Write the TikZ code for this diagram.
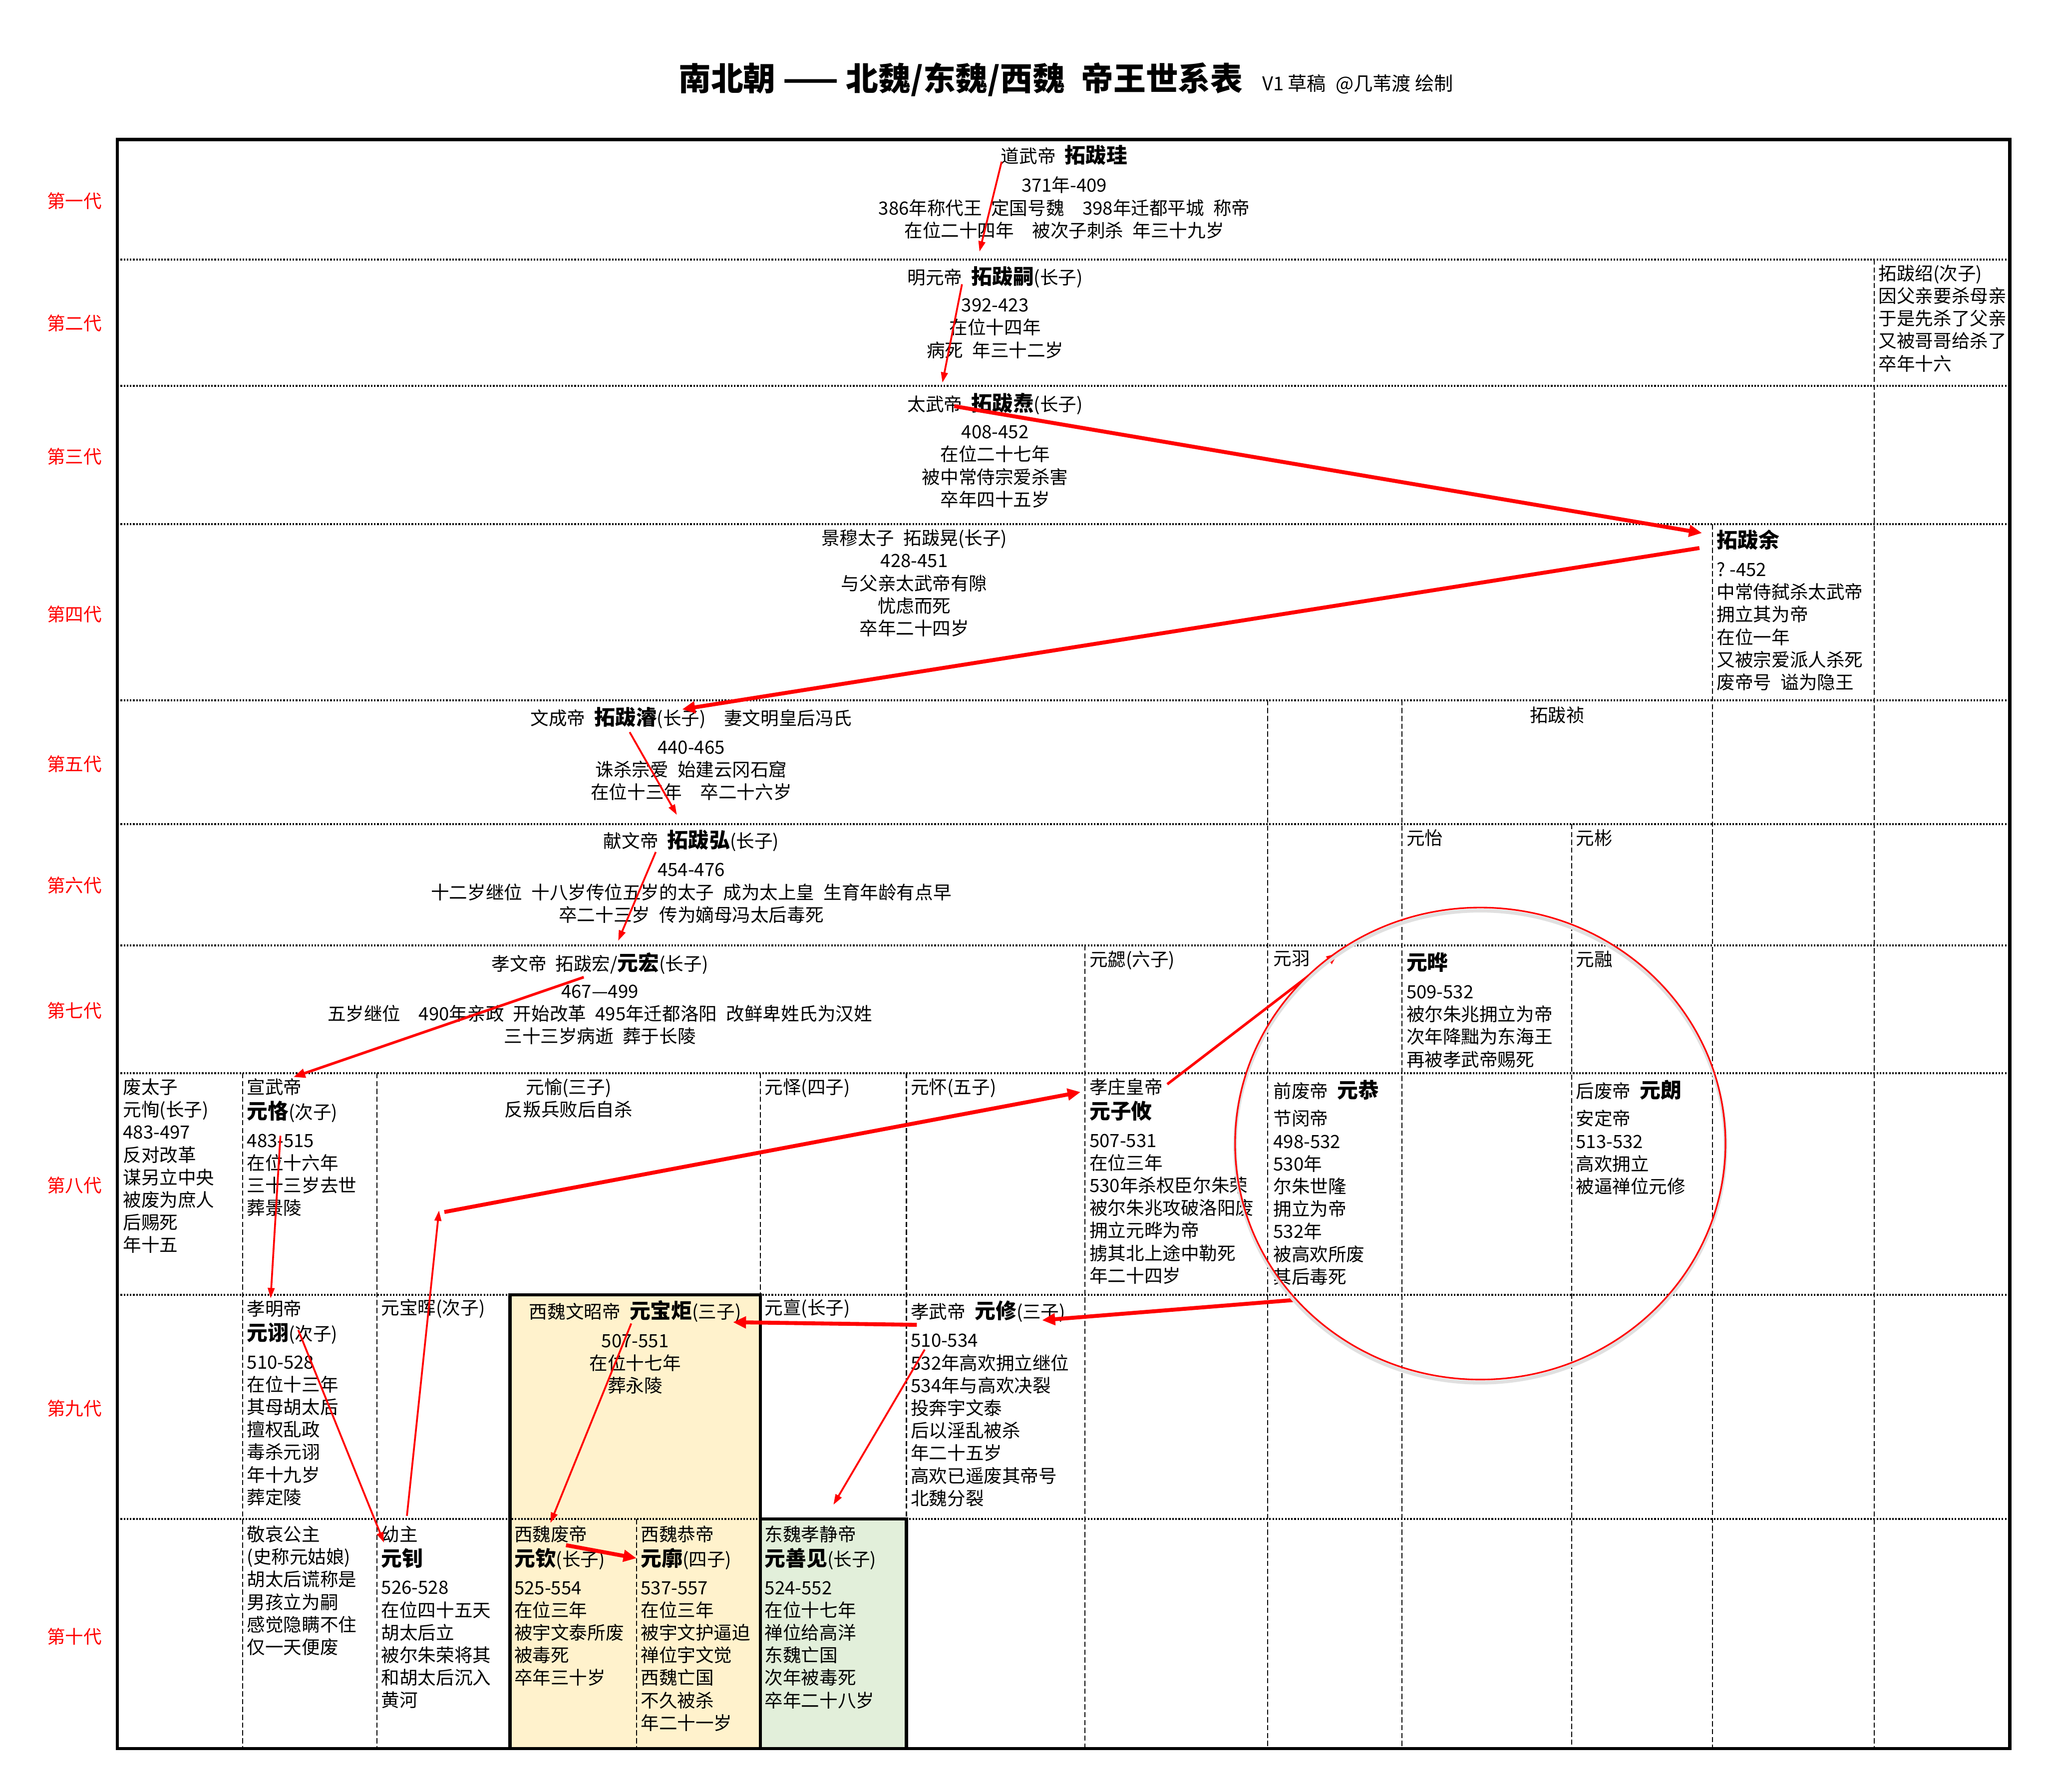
\documentclass[tikz,border=0pt]{standalone}
\usepackage{fontspec}
\setmainfont{Noto Sans CJK SC}
\usetikzlibrary{arrows.meta,positioning}
\definecolor{xiwei}{HTML}{FFF2CC}
\definecolor{dongwei}{HTML}{E2EFDA}
\newcommand{\nm}[1]{{\fontsize{8pt}{8.65pt}\selectfont\bfseries #1}}
\begin{document}
\begin{tikzpicture}[
    x=0.5pt, y=-0.5pt,
    every node/.style={inner sep=0pt, font=\fontsize{7pt}{8.65pt}\selectfont},
    cell/.style={align=center, anchor=north},
    lcell/.style={align=left, anchor=north west},
    gen/.style={text=red},
    rowline/.style={line width=0.7pt, dash pattern=on 0.6pt off 0.6pt},
    colline/.style={line width=0.4pt, dash pattern=on 2pt off 1pt},
    outer/.style={line width=1.2pt},
    heir/.style={red, line width=0.7pt, -{Triangle[length=4pt, width=2.6pt]}},
    heirmid/.style={red, line width=1pt, -{Triangle[length=4.5pt, width=3.4pt]}},
    heirbig/.style={red, line width=1.5pt, -{Triangle[length=5pt, width=4.4pt]}}
]
\useasboundingbox (0,0) rectangle (1568,1374);

\fill[xiwei] (391,993) rectangle (583,1341);
\fill[dongwei] (583,1165) rectangle (695,1341);

\foreach \y in {199,296,402,537,632,725,823,993,1165}
    \draw[rowline] (90,\y) -- (1541,\y);
\foreach \x/\a/\b in {1437/199/1341, 1313/402/1341, 972/537/1341, 1075/537/1341,
        1205/632/1341, 832/725/1341, 186/823/1341, 289/823/1341,
        583/823/993, 695/823/1165, 488/1165/1341}
    \draw[colline] (\x,\a) -- (\x,\b);
\draw[outer] (90,107) rectangle (1541,1341);
\draw[outer] (391,993) rectangle (583,1341);
\draw[outer] (583,1165) rectangle (695,1341);

\node[font=\fontsize{12.4pt}{14pt}\selectfont\bfseries, anchor=west] (ttl) at (520,61)
    {南北朝 —— 北魏/东魏/西魏\enspace 帝王世系表};
\node[font=\fontsize{7.3pt}{9pt}\selectfont, anchor=base west] (sub) at ([xshift=7pt]ttl.base east)
    {V1 草稿\enspace @几苇渡 绘制};

\foreach \t/\y [count=\i] in {第一代/154, 第二代/248, 第三代/350, 第四代/471, 第五代/586,
        第六代/679, 第七代/775, 第八代/909, 第九代/1080, 第十代/1255}
    \node[gen] (L\i) at (57,\y) {\t};

\node[cell] (g1) at (816,111) {道武帝\enspace\nm{拓跋珪}\\[2.5pt]
    371年-409\\
    386年称代王\enspace 定国号魏\quad 398年迁都平城\enspace 称帝\\
    在位二十四年\quad 被次子刺杀\enspace 年三十九岁};

\node[cell] (g2) at (763,204) {明元帝\enspace\nm{拓跋嗣}(长子)\\[1.9pt]
    392-423\\ 在位十四年\\ 病死\enspace 年三十二岁};
\node[lcell] (shao) at (1440,202.7) {拓跋绍(次子)\\ 因父亲要杀母亲\\ 于是先杀了父亲\\
    又被哥哥给杀了\\ 卒年十六};

\node[cell] (g3) at (763,301) {太武帝\enspace\nm{拓跋焘}(长子)\\[1.9pt]
    408-452\\ 在位二十七年\\ 被中常侍宗爱杀害\\ 卒年四十五岁};

\node[cell] (g4) at (701,405.7) {景穆太子\enspace 拓跋晃(长子)\\
    428-451\\ 与父亲太武帝有隙\\ 忧虑而死\\ 卒年二十四岁};
\node[lcell] (yu) at (1316,406) {\nm{拓跋余}\\[2.2pt]
    ?\ -452\\ 中常侍弑杀太武帝\\ 拥立其为帝\\ 在位一年\\ 又被宗爱派人杀死\\
    废帝号\enspace 谥为隐王};

\node[cell] (g5) at (530,542) {文成帝\enspace\nm{拓跋濬}(长子)\quad 妻文明皇后冯氏\\[2.4pt]
    440-465\\ 诛杀宗爱\enspace 始建云冈石窟\\ 在位十三年\quad 卒二十六岁};
\node[cell] (zhen) at (1194,541.7) {拓跋祯};

\node[cell] (g6) at (530,636) {献文帝\enspace\nm{拓跋弘}(长子)\\[2.4pt]
    454-476\\
    十二岁继位\enspace 十八岁传位五岁的太子\enspace 成为太上皇\enspace 生育年龄有点早\\
    卒二十三岁\enspace 传为嫡母冯太后毒死};
\node[lcell] (yi) at (1078,635.7) {元怡};
\node[lcell] (bin) at (1208,635.7) {元彬};

\node[cell] (g7) at (460,730) {孝文帝\enspace 拓跋宏/\nm{元宏}(长子)\\[1.9pt]
    467—499\\
    五岁继位\quad 490年亲政\enspace 开始改革\enspace 495年迁都洛阳\enspace 改鲜卑姓氏为汉姓\\
    三十三岁病逝\enspace 葬于长陵};
\node[lcell] (xie) at (835,728.7) {元勰(六子)};
\node[lcell] (yuu) at (976,728.7) {元羽};
\node[lcell] (ye) at (1078,730) {\nm{元晔}\\[2.2pt]
    509-532\\ 被尔朱兆拥立为帝\\ 次年降黜为东海王\\ 再被孝武帝赐死};
\node[lcell] (rong) at (1208,728.7) {元融};

\node[lcell] (xun) at (94,826.7) {废太子\\ 元恂(长子)\\ 483-497\\ 反对改革\\ 谋另立中央\\
    被废为庶人\\ 后赐死\\ 年十五};
\node[lcell] (ke) at (189,826.7) {宣武帝\\[0.9pt] \nm{元恪}(次子)\\[2.2pt]
    483-515\\ 在位十六年\\ 三十三岁去世\\ 葬景陵};
\node[cell] (yuy) at (436,826.7) {元愉(三子)\\ 反叛兵败后自杀};
\node[lcell] (yii) at (586,826.7) {元怿(四子)};
\node[lcell] (huai) at (698,826.7) {元怀(五子)};
\node[lcell] (ziyou) at (835,826.7) {孝庄皇帝\\[0.9pt] \nm{元子攸}\\[2.2pt]
    507-531\\ 在位三年\\ 530年杀权臣尔朱荣\\ 被尔朱兆攻破洛阳废\\ 拥立元晔为帝\\
    掳其北上途中勒死\\ 年二十四岁};
\node[lcell] (gong) at (976,828) {前废帝\enspace\nm{元恭}\\[1.9pt]
    节闵帝\\ 498-532\\ 530年\\ 尔朱世隆\\ 拥立为帝\\ 532年\\ 被高欢所废\\ 其后毒死};
\node[lcell] (lang) at (1208,828) {后废帝\enspace\nm{元朗}\\[1.9pt]
    安定帝\\ 513-532\\ 高欢拥立\\ 被逼禅位元修};

\node[lcell] (xu) at (189,996.7) {孝明帝\\[0.9pt] \nm{元诩}(次子)\\[2.2pt]
    510-528\\ 在位十三年\\ 其母胡太后\\ 擅权乱政\\ 毒杀元诩\\ 年十九岁\\ 葬定陵};
\node[lcell] (baohui) at (292,995.7) {元宝晖(次子)};
\node[cell] (baoju) at (487,997) {西魏文昭帝\enspace\nm{元宝炬}(三子)\\[2.4pt]
    507-551\\ 在位十七年\\ 葬永陵};
\node[lcell] (dan) at (586,995.7) {元亶(长子)};
\node[lcell] (xiu) at (698,997) {孝武帝\enspace\nm{元修}(三子)\\[2.4pt]
    510-534\\ 532年高欢拥立继位\\ 534年与高欢决裂\\ 投奔宇文泰\\ 后以淫乱被杀\\
    年二十五岁\\ 高欢已遥废其帝号\\ 北魏分裂};

\node[lcell] (jingai) at (189,1169.7) {敬哀公主\\ (史称元姑娘)\\ 胡太后谎称是\\
    男孩立为嗣\\ 感觉隐瞒不住\\ 仅一天便废};
\node[lcell] (zhao) at (292,1169.7) {幼主\\[0.9pt] \nm{元钊}\\[2.2pt]
    526-528\\ 在位四十五天\\ 胡太后立\\ 被尔朱荣将其\\ 和胡太后沉入\\ 黄河};
\node[lcell] (qin) at (394,1169.7) {西魏废帝\\[0.9pt] \nm{元钦}(长子)\\[2.2pt]
    525-554\\ 在位三年\\ 被宇文泰所废\\ 被毒死\\ 卒年三十岁};
\node[lcell] (kuo) at (491,1169.7) {西魏恭帝\\[0.9pt] \nm{元廓}(四子)\\[2.2pt]
    537-557\\ 在位三年\\ 被宇文护逼迫\\ 禅位宇文觉\\ 西魏亡国\\ 不久被杀\\ 年二十一岁};
\node[lcell] (shanjian) at (586,1169.7) {东魏孝静帝\\[0.9pt] \nm{元善见}(长子)\\[2.2pt]
    524-552\\ 在位十七年\\ 禅位给高洋\\ 东魏亡国\\ 次年被毒死\\ 卒年二十八岁};

\coordinate (gui-o) at (768,124);     \coordinate (si-i) at (751,193);
\coordinate (si-o) at (737.6,218);    \coordinate (tao-i) at (722.6,293.5);
\coordinate (tao-o) at (731.6,311.5); \coordinate (yu-i) at (1305,408.8);
\coordinate (yu-o) at (1303,420.3);   \coordinate (jun-i) at (523,544);
\coordinate (jun-o) at (482.8,561.5); \coordinate (hong-i) at (519,625);
\coordinate (hong-o) at (502.8,653.4);\coordinate (yh-i) at (474,721.5);
\coordinate (yh-o) at (447.6,749.4);  \coordinate (ke-i) at (225,826);
\coordinate (ke-o) at (215,871);      \coordinate (xu-i) at (207.5,995.7);
\coordinate (xu-o) at (228.7,1020);   \coordinate (zhao-i) at (294.4,1183);
\coordinate (bh-o) at (312,1162.5);   \coordinate (bend) at (336.6,928.3);
\coordinate (bend-o) at (340.7,929.5);\coordinate (ziyou-i) at (828.5,837.5);
\coordinate (ziyou-o) at (895,831.5); \coordinate (ye-i) at (1026,731);
\coordinate (gong-o) at (992,997);    \coordinate (xiu-i) at (799,1012.5);
\coordinate (xiu-o) at (703,1016);    \coordinate (bj-i) at (562,1014);
\coordinate (xiu-o2) at (709,1035);   \coordinate (sj-i) at (639,1154);
\coordinate (bj-o) at (484,1015);     \coordinate (qin-i) at (422,1168);
\coordinate (qin-o) at (434,1185);    \coordinate (kuo-i) at (488,1195);

\draw[heir] (gui-o) -- (si-i);
\draw[heir] (si-o) -- (tao-i);
\draw[heirbig] (tao-o) -- (yu-i);
\draw[heirbig] (yu-o) -- (jun-i);
\draw[heir] (jun-o) -- (hong-i);
\draw[heir] (hong-o) -- (yh-i);
\draw[heirmid] (yh-o) -- (ke-i);
\draw[heir] (ke-o) -- (xu-i);
\draw[heir] (xu-o) -- (zhao-i);
\draw[heir] (bh-o) -- (bend);
\draw[heirbig] (bend-o) -- (ziyou-i);
\draw[heirmid] (ziyou-o) -- (ye-i);
\draw[heirbig] (gong-o) -- (xiu-i);
\draw[heirbig] (xiu-o) -- (bj-i);
\draw[heir] (xiu-o2) -- (sj-i);
\draw[heir] (bj-o) -- (qin-i);
\draw[heirbig] (qin-o) -- (kuo-i);

\coordinate (ring) at (1135,877);
\draw[black!12, line width=1.4pt] ([yshift=-1.2pt]ring) ellipse [x radius=94pt, y radius=90.5pt];
\draw[red, line width=0.6pt] (ring) ellipse [x radius=94pt, y radius=90.5pt];
\end{tikzpicture}
\end{document}
